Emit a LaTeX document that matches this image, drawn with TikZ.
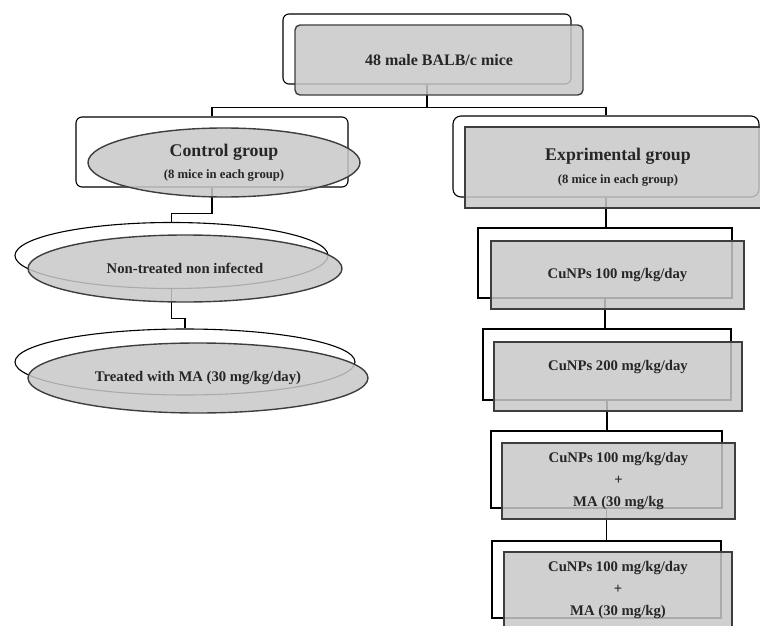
\documentclass[tikz,border=0pt]{standalone}
\usepackage{fontspec}
\setmainfont{Liberation Serif}
\usetikzlibrary{shapes.geometric,backgrounds}
\definecolor{boxgray}{RGB}{200,200,200}
\definecolor{edgegray}{RGB}{62,62,62}
\tikzset{
  txt/.style = {align=center, inner sep=0pt, text centered, text=black!85,
    font=\bfseries\fontsize{14.7}{22}\selectfont},
  bk_r/.style = {txt, rectangle, draw=black, line width=1.1pt},% back frame
  bk_rr/.style = {bk_r, rounded corners=6pt},% back frame, round corners
  bk_e/.style = {txt, ellipse, draw=black, line width=1.1pt},% back ellipse
  fr_r/.style = {txt, rectangle, draw=edgegray, line width=1.4pt,
    fill=boxgray, fill opacity=0.85, text opacity=1},% grey box in front
  fr_rr/.style = {fr_r, rounded corners=5pt},% grey box, round corners
  fr_e/.style = {txt, ellipse, draw=edgegray, line width=1.4pt,
    fill=boxgray, fill opacity=0.85, text opacity=1},% grey ellipse in front
  link/.style = {draw=black, line width=1.1pt}
}

\begin{document}
\begin{tikzpicture}[x=1pt,y=-1pt]
\useasboundingbox (0,0) rectangle (760,626);
\clip (0,0) rectangle (760,626);
% back shapes
\node [bk_rr, minimum width=288, minimum height=70] (mice_b) at (427,49) {};
\node [bk_rr, minimum width=272, minimum height=70] (ctrl_b) at (212,152) {};
\node [bk_rr, rounded corners=8pt, minimum width=306, minimum height=81] (exp_b) at (606,156.5) {};
\node [bk_e, minimum width=313, minimum height=66] (nt_b) at (171.5,255.5) {};
\node [bk_e, minimum width=340, minimum height=66] (ma_b) at (185,362) {};
\node [bk_r, minimum width=254, minimum height=70] (c100_b) at (605,263) {};
\node [bk_r, minimum width=248, minimum height=71] (c200_b) at (607,364.5) {};
\node [bk_r, minimum width=231, minimum height=77] (mix1_b) at (606.5,469.5) {};
\node [bk_r, minimum width=229, minimum height=77] (mix2_b) at (606.5,579.5) {};
% grey shapes in front
\node [fr_rr, minimum width=288, minimum height=70,
  font=\bfseries\fontsize{16}{19}\selectfont] (mice) at (439,60) {48 male BALB/c mice};
\node [fr_e, minimum width=272, minimum height=69,
  font=\bfseries\fontsize{17.8}{22}\selectfont] (ctrl) at (224,162.5)
  {Control group\\{\fontsize{12.7}{22}\selectfont (8 mice in each group)}};
\node [fr_r, minimum width=306, minimum height=81,
  font=\bfseries\fontsize{17.8}{23}\selectfont] (exp) at (618,167.5)
  {Exprimental group\\{\fontsize{12.7}{23}\selectfont (8 mice in each group)}};
\node [fr_e, minimum width=314, minimum height=67] (nt) at (185,268.5) {Non-treated non infected};
\node [fr_e, minimum width=340, minimum height=70] (ma) at (198,378) {Treated with MA (30 mg/kg/day)};
\node [fr_r, minimum width=253, minimum height=68] (c100) at (617.5,275) {CuNPs 100 mg/kg/day};
\node [fr_r, minimum width=248, minimum height=69, text height=10pt, text depth=22pt] (c200)
  at (618,376.5) {CuNPs 200 mg/kg/day};
\node [fr_r, minimum width=233, minimum height=76] (mix1) at (618.5,481)
  {CuNPs 100 mg/kg/day\\+\\MA (30 mg/kg};
\node [fr_r, minimum width=228, minimum height=76] (mix2) at (618,590)
  {CuNPs 100 mg/kg/day\\+\\MA (30 mg/kg)};
% connectors
\begin{scope}[on background layer]
\draw [link] (mice_b.south) -- ++(0,23) -| (ctrl_b.north);
\draw [link] (mice_b.south) -- ++(0,23) -| (exp_b.north);
\draw [link] (ctrl_b.south) -- ++(0,26) -| (nt_b.north);
\draw [link] (nt_b.south) -- ++(0,29) -| (ma_b.north);
\draw [link] (exp_b.south) -- (exp_b.south |- c100_b.north);
\draw [link] (c100_b.south) -- (c100_b.south |- c200_b.north);
\draw [link] (c200_b.south) -- (c200_b.south |- mix1_b.north);
\draw [link] (mix1_b.south) -- (mix1_b.south |- mix2_b.north);
\end{scope}
\end{tikzpicture}
\end{document}
